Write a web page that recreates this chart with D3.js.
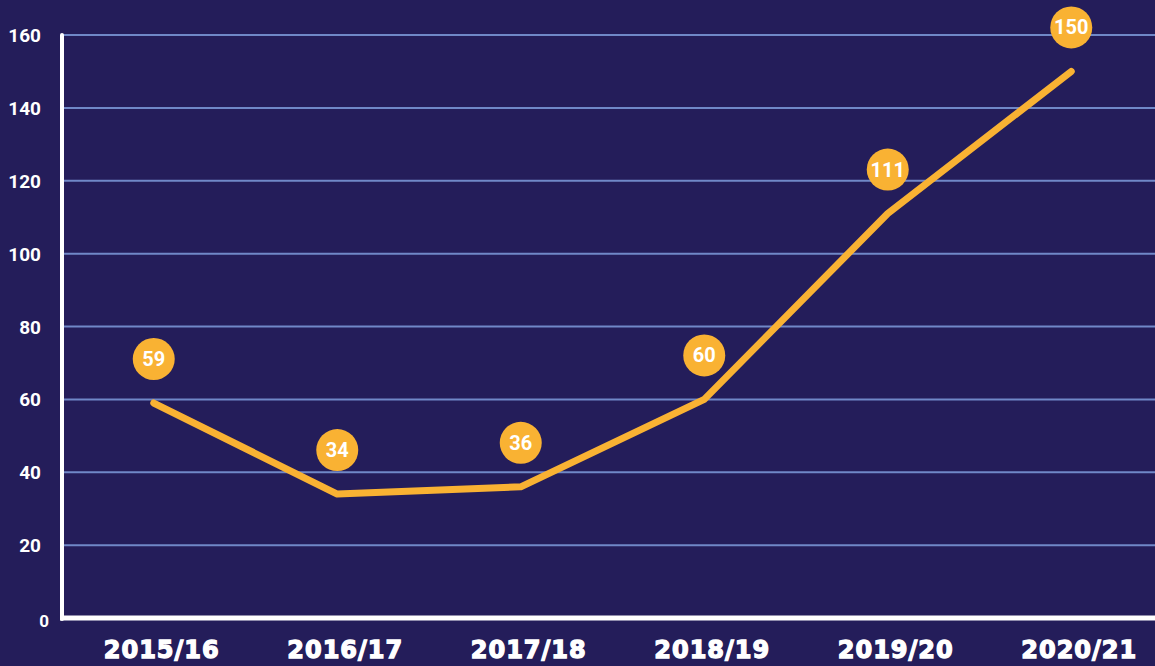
<!DOCTYPE html>
<html>
<head>
<meta charset="utf-8">
<script src="https://cdn.jsdelivr.net/npm/d3@7"></script>
<style>
  html, body { margin: 0; padding: 0; background: #241d5a; }
  svg { display: block; }
  .ytick { font-family: Roboto, sans-serif; font-weight: 700; fill: #fff; }
  .xtick { font-family: "DejaVu Sans", sans-serif; font-weight: 700; font-size: 24px; fill: #fff;
           stroke: #fff; stroke-width: 1.3px; letter-spacing: 1px; }
  .val { font-family: Roboto, sans-serif; font-weight: 700; font-size: 20px; fill: #fff; }
</style>
</head>
<body>
<svg id="chart"></svg>
<script>
const seasons = ['2015/16', '2016/17', '2017/18', '2018/19', '2019/20', '2020/21'];
const counts = [59, 34, 36, 60, 111, 150];
const yTicks = [0, 20, 40, 60, 80, 100, 120, 140, 160];

const W = 1155, H = 666;
const margin = {top: 35, right: 0, bottom: 48, left: 62};
const height = H - margin.top - margin.bottom;

const svg = d3.select('#chart').attr('width', W).attr('height', H);
svg.append('rect').attr('width', W).attr('height', H).attr('fill', '#241d5a');

const x = d3.scaleBand().domain(seasons).range([margin.left, 1163]);
const y = d3.scaleLinear().domain([0, 160]).range([margin.top + height, margin.top]);
const xc = (d) => x(d) + x.bandwidth() / 2;

// grid lines
svg.append('g').selectAll('line').data(yTicks.filter(v => v > 0)).enter().append('line')
  .attr('x1', margin.left).attr('x2', W)
  .attr('y1', d => y(d)).attr('y2', d => y(d))
  .attr('stroke', '#7088c8').attr('stroke-width', 2);

// y tick labels
svg.append('g').selectAll('text').data(yTicks).enter().append('text')
  .attr('class', 'ytick')
  .attr('text-anchor', 'end')
  .attr('x', d => d == 0 ? 49 : 41)
  .attr('y', d => y(d) + (d == 0 ? 9 : 7))
  .attr('font-size', d => d == 0 ? 17 : 19)
  .text(d => d);

// axes
svg.append('line').attr('x1', margin.left).attr('x2', margin.left)
  .attr('y1', margin.top).attr('y2', y(0) + 1)
  .attr('stroke', '#fff').attr('stroke-width', 4).attr('stroke-linecap', 'round');
svg.append('line').attr('x1', margin.left - 2).attr('x2', W)
  .attr('y1', y(0)).attr('y2', y(0))
  .attr('stroke', '#fff').attr('stroke-width', 5);

// x labels
svg.append('g').selectAll('text').data(seasons).enter().append('text')
  .attr('class', 'xtick')
  .attr('text-anchor', 'middle')
  .attr('x', d => xc(d) + 8)
  .attr('y', 658)
  .text(d => d);

// line
const data = seasons.map((s, i) => ({s: s, v: counts[i]}));
svg.append('path').datum(data)
  .attr('d', d3.line().x(d => xc(d.s)).y(d => y(d.v)))
  .attr('fill', 'none').attr('stroke', '#f9b233')
  .attr('stroke-width', 7).attr('stroke-linecap', 'round').attr('stroke-linejoin', 'round');

// value bubbles
const bub = svg.append('g').selectAll('g').data(data).enter().append('g')
  .attr('transform', d => `translate(${xc(d.s)},${y(d.v) - 44})`);
bub.append('circle').attr('r', 21).attr('fill', '#f9b233');
bub.append('text').attr('class', 'val')
  .attr('text-anchor', 'middle').attr('dy', 7)
  .text(d => d.v);
</script>
</body>
</html>
